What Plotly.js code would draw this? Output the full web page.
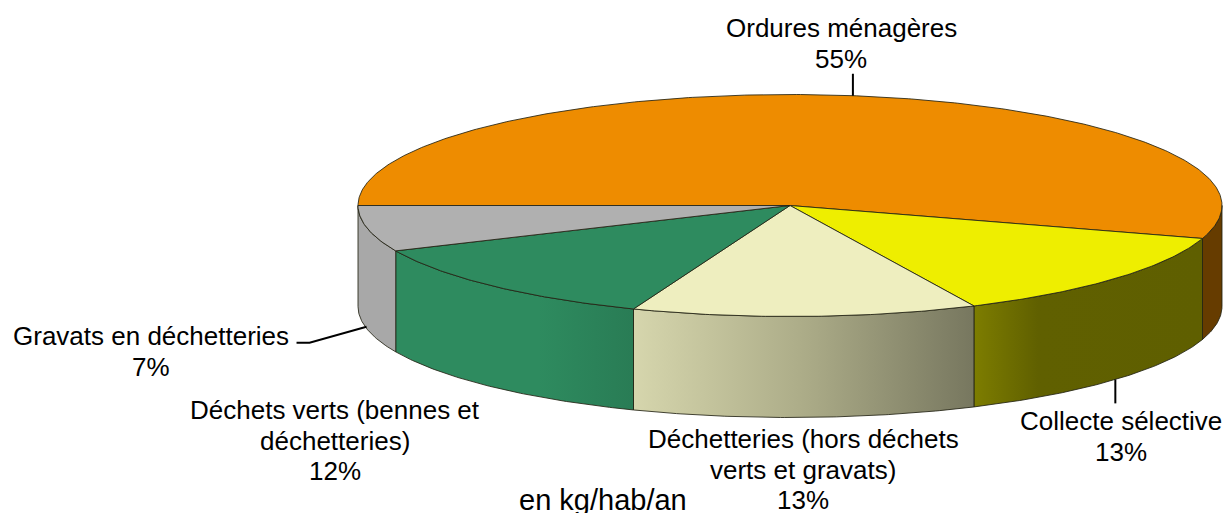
<!DOCTYPE html>
<html lang="fr">
<head>
<meta charset="utf-8">
<script src="https://cdn.plot.ly/plotly-3.0.1.min.js"></script>
<style>html,body{margin:0;padding:0;background:#fff}#c{width:1223px;height:513px}</style>
</head>
<body>
<div id="c"></div>
<script>
// Data
const categoryLines = [
  ['Ordures ménagères'],
  ['Collecte sélective'],
  ['Déchetteries (hors déchets', 'verts et gravats)'],
  ['Déchets verts (bennes et', 'déchetteries)'],
  ['Gravats en déchetteries']
];
const percents = [54.8, 13.2, 12.9, 12.4, 6.7];
const topColors = ['#EE8C00', '#EEEE00', '#EEEEBF', '#2E8B5F', '#B0B0B0'];
const wallScales = [
  [[0, '#663C00'], [1, '#663C00']],
  [[0, '#7D7D00'], [0.28, '#606000'], [1, '#5F5F00']],
  [[0, '#D6D6AD'], [0.5, '#ACAC88'], [1, '#77775F']],
  [[0, '#2E8B5F'], [0.6, '#2E8B5F'], [1, '#297C55']],
  [[0, '#A8A8A8'], [1, '#A8A8A8']]
];

// Layout of the drawing
const W = 1223, H = 513;
const cx = 790, cy = 205.5, rx = 432, ry = 111, depth = 101;
const startDeg = 180;
const edge = 'rgba(35,35,20,0.85)';
const labelCenters = [841, 1121, 803, 335, 151];
const labelFirstY = [28, 421, 439, 410, 336];
const lineGap = 30.5;
const noteText = 'en kg/hab/an', notePos = [603, 500];
const fontSize = 26, noteFontSize = 29;
// leader: offset of the start from the slice's mid-rim point, then the offsets of the following points
const leaders = [
  {wall: false, pts: [[-2, 0], [-2, -22]]},
  {wall: true, pts: [[-0.5, 0], [-0.5, 24]]},
  null, null,
  {wall: true, pts: [[-1, -3], [-58, 13], [-71, 13]]}
];

const rad = d => d * Math.PI / 180;
const px = a => cx + rx * Math.cos(rad(a));
const py = (a, drop) => cy - ry * Math.sin(rad(a)) + drop;

function arc(a1, a2, drop) {
  const n = Math.max(2, Math.ceil(Math.abs(a2 - a1) * 2));
  const xs = [], ys = [];
  for (let i = 0; i <= n; i++) {
    const a = a1 + (a2 - a1) * i / n;
    xs.push(px(a)); ys.push(py(a, drop));
  }
  return {xs, ys};
}

const total = percents.reduce((s, v) => s + v, 0);
let cursor = startDeg;
const slices = percents.map(v => {
  const a1 = cursor, a2 = cursor - v / total * 360;
  cursor = a2;
  return {a1, a2, mid: (a1 + a2) / 2};
});

const traces = [];
const base = {type: 'scatter', mode: 'lines', hoverinfo: 'skip', showlegend: false, fill: 'toself'};

// Walls (only the front half, below the horizontal axis of the ellipse)
slices.forEach((s, i) => {
  const lo = Math.max(s.a2, -180), hi = Math.min(s.a1, 0);
  if (hi <= lo) return;
  const t = arc(hi, lo, 0), b = arc(lo, hi, depth);
  traces.push(Object.assign({}, base, {
    x: t.xs.concat(b.xs, [t.xs[0]]),
    y: t.ys.concat(b.ys, [t.ys[0]]),
    line: {color: edge, width: 1},
    fillgradient: {type: 'horizontal', colorscale: wallScales[i]}
  }));
});

// Top faces
slices.forEach((s, i) => {
  const t = arc(s.a1, s.a2, 0);
  traces.push(Object.assign({}, base, {
    x: [cx].concat(t.xs, [cx]),
    y: [cy].concat(t.ys, [cy]),
    fillcolor: topColors[i],
    line: {color: edge, width: 1}
  }));
});

// Leader lines
leaders.forEach((l, i) => {
  if (!l) return;
  const a = slices[i].mid;
  const ax = px(a), ay = py(a, l.wall ? depth : 0);
  traces.push({
    type: 'scatter', mode: 'lines', hoverinfo: 'skip', showlegend: false,
    x: l.pts.map(p => ax + p[0]), y: l.pts.map(p => ay + p[1]),
    line: {color: '#000', width: 2}
  });
});

const family = '"Liberation Sans", Arial, sans-serif';
const textAt = (text, x, y, size) => ({
  xref: 'x', yref: 'y', x, y, text,
  showarrow: false, xanchor: 'center', yanchor: 'middle', align: 'center',
  font: {family, size, color: '#000'}
});
const annotations = [];
categoryLines.forEach((lines, i) => {
  lines.concat([Math.round(percents[i]) + '%']).forEach((line, k) => {
    annotations.push(textAt(line, labelCenters[i], labelFirstY[i] + k * lineGap, fontSize));
  });
});
annotations.push(textAt(noteText, notePos[0], notePos[1], noteFontSize));

Plotly.newPlot('c', traces, {
  width: W, height: H,
  margin: {l: 0, r: 0, t: 0, b: 0},
  paper_bgcolor: '#fff', plot_bgcolor: '#fff',
  xaxis: {range: [0, W], visible: false, fixedrange: true},
  yaxis: {range: [H, 0], visible: false, fixedrange: true},
  annotations
}, {displayModeBar: false, staticPlot: true});
</script>
</body>
</html>
